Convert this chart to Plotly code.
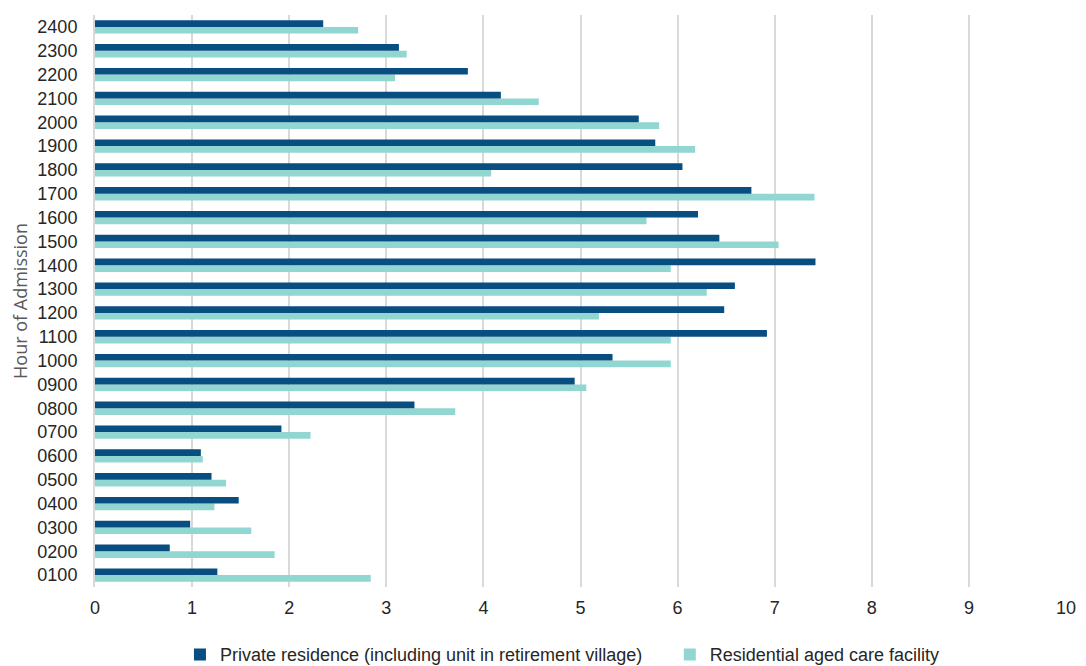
import plotly.graph_objects as go

hours = ["0100", "0200", "0300", "0400", "0500", "0600", "0700", "0800", "0900", "1000",
         "1100", "1200", "1300", "1400", "1500", "1600", "1700", "1800", "1900", "2000",
         "2100", "2200", "2300", "2400"]
private_residence = [1.26, 0.77, 0.98, 1.48, 1.20, 1.09, 1.92, 3.29, 4.94, 5.33,
                     6.92, 6.48, 6.59, 7.42, 6.43, 6.21, 6.76, 6.05, 5.77, 5.60,
                     4.18, 3.84, 3.13, 2.35]
aged_care = [2.84, 1.85, 1.61, 1.23, 1.35, 1.11, 2.22, 3.71, 5.06, 5.93,
             5.93, 5.19, 6.30, 5.93, 7.04, 5.68, 7.41, 4.08, 6.18, 5.81,
             4.57, 3.09, 3.21, 2.71]
x_ticks = list(range(0, 11))

name_private = "Private residence (including unit in retirement village)"
name_aged = "Residential aged care facility"

fig = go.Figure()
fig.add_trace(go.Bar(y=hours, x=aged_care, orientation="h", name=name_aged,
                     marker=dict(color="#92d6d2", line=dict(width=0)), legend="legend2"))
fig.add_trace(go.Bar(y=hours, x=private_residence, orientation="h", name=name_private,
                     marker=dict(color="#084e80", line=dict(width=0)), legend="legend"))

legend_common = dict(orientation="h", yanchor="top", y=-0.086, xanchor="left",
                     font=dict(size=18, color="#262626"), itemwidth=30,
                     bgcolor="rgba(0,0,0,0)")

fig.update_layout(
    width=1070, height=658,
    margin=dict(l=87, r=12, t=7, b=79, autoexpand=False),
    paper_bgcolor="white", plot_bgcolor="white",
    barmode="group", bargap=0.44, bargroupgap=0.0,
    font=dict(family="Liberation Sans, Arial, sans-serif", size=18, color="#262626"),
    xaxis=dict(range=[0, 10], tickvals=x_ticks, showgrid=True, gridcolor="#d9d9d9",
               gridwidth=2, zeroline=False, showline=False, ticks="",
               ticklabelstandoff=8, ticklabeloverflow="allow",
               tickfont=dict(size=18, color="#262626")),
    yaxis=dict(type="category", categoryorder="array", categoryarray=hours,
               showgrid=False, showline=True, linecolor="#d9d9d9", linewidth=2,
               ticks="", ticklabelstandoff=12,
               tickfont=dict(size=18, color="#262626"),
               title=dict(text="Hour of Admission",
                          font=dict(family="Open Sans, Liberation Sans, sans-serif",
                                    size=18, color="#595959"),
                          standoff=9)),
    legend=dict(x=0.0875, **legend_common),
    legend2=dict(x=0.592, **legend_common),
    showlegend=True,
)

fig.write_html("out.html")
